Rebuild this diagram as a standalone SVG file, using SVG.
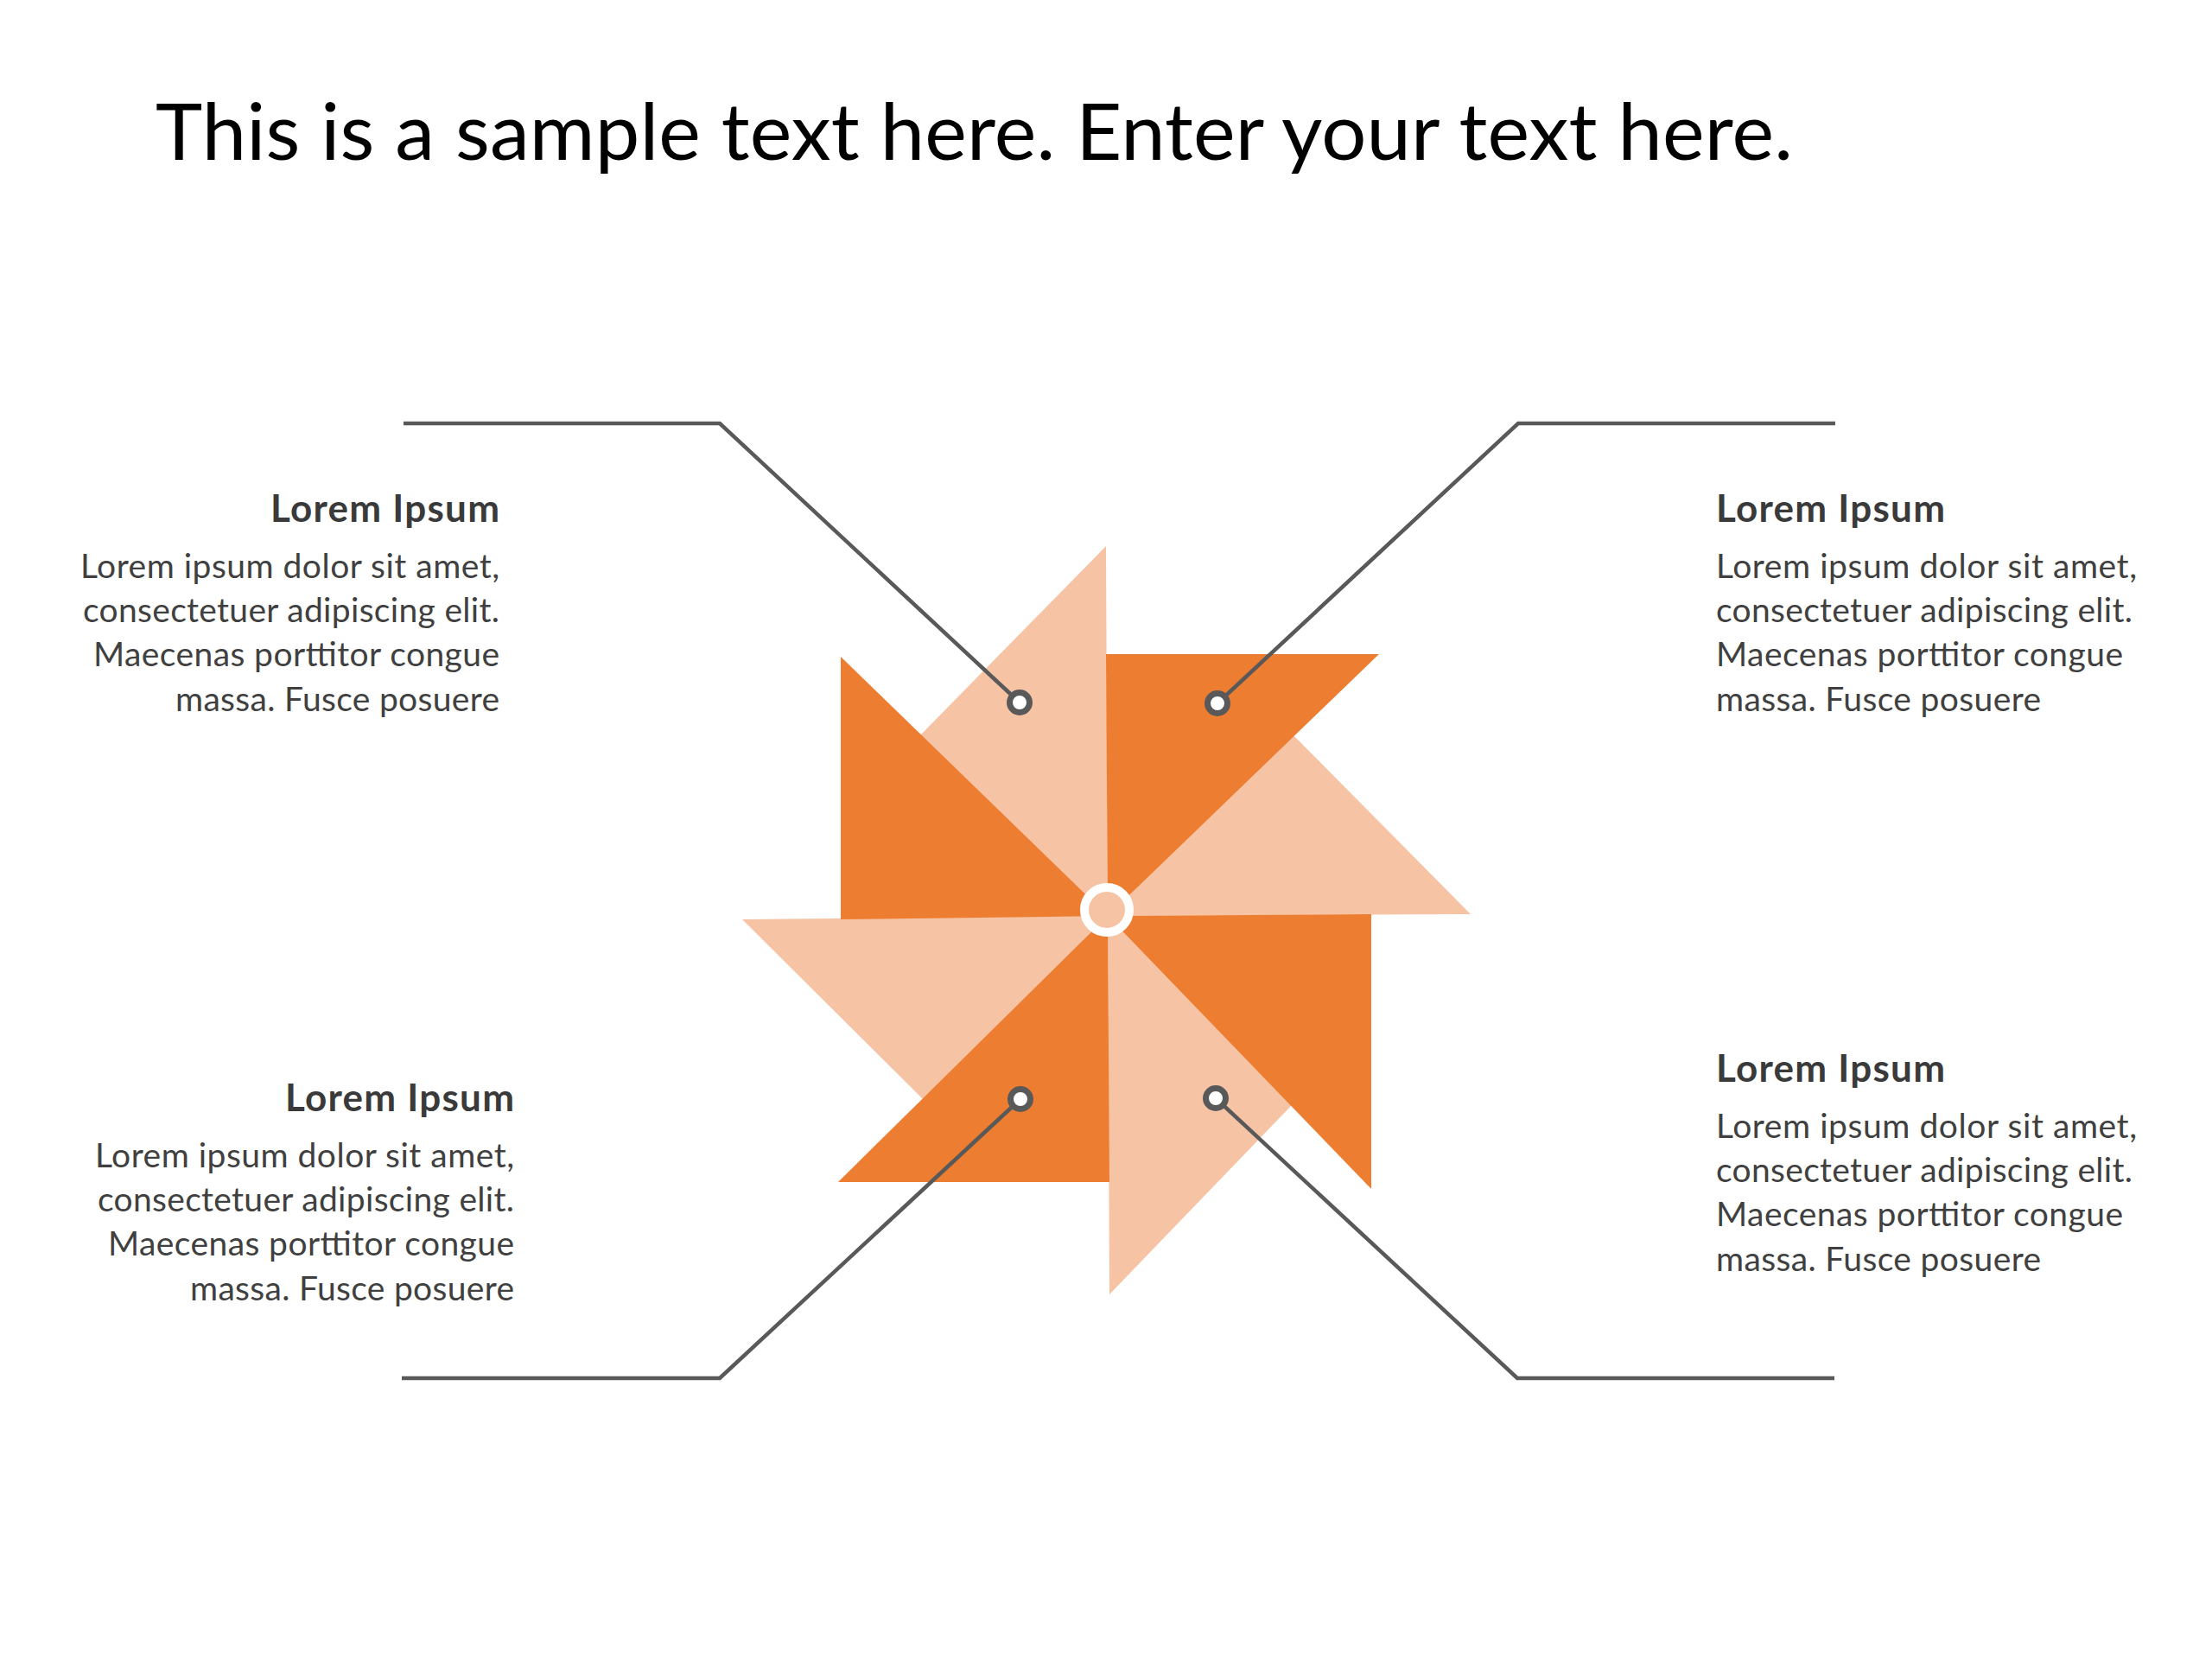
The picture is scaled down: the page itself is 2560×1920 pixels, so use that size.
<svg xmlns="http://www.w3.org/2000/svg" width="2560" height="1920" viewBox="0 0 2560 1920">
  <style>
    .title { font-family: Lato, "Open Sans", "Liberation Sans", sans-serif; font-size: 92px; fill: #000000; }
    .head { font-family: Lato, "Open Sans", "Liberation Sans", sans-serif; font-size: 44px; font-weight: bold; fill: #3A3A3A; }
    .body { font-family: Lato, "Open Sans", "Liberation Sans", sans-serif; font-size: 39px; fill: #404040; }
    .dark { fill: #ED7D31; }
    .light { fill: #F6C4A4; }
    .conn { fill: none; stroke: #595959; stroke-width: 4.5; stroke-linejoin: miter; }
    .dot { fill: #FFFFFF; stroke: #595959; stroke-width: 7; }
  </style>
  <rect width="2560" height="1920" fill="#FFFFFF"/>

  <text id="title" class="title" x="180" y="185" textLength="1895">This is a sample text here. Enter your text here.</text>

  <g id="pinwheel">
    <polygon class="light" points="1280,632 1064,852 1282,1060"/>
    <polygon class="light" points="1702,1058 1496,850 1282,1060"/>
    <polygon class="light" points="1284,1498 1496,1278 1282,1060"/>
    <polygon class="light" points="859,1064 1068,1272 1282,1060"/>
    <polygon class="dark" points="1280,757 1596,757 1282,1060"/>
    <polygon class="dark" points="1587,1058 1587,1376 1282,1060"/>
    <polygon class="dark" points="1284,1368 970,1368 1282,1060"/>
    <polygon class="dark" points="973,1064 973,760 1282,1060"/>
    <circle id="hub" cx="1281" cy="1053" r="26" fill="#F6C4A4" stroke="#FFFFFF" stroke-width="10"/>
  </g>

  <g id="connectors">
    <polyline class="conn" points="467,490 833,490 1180,813"/>
    <polyline class="conn" points="2124,490 1757,490 1409,814"/>
    <polyline class="conn" points="465,1595 833,1595 1181,1272"/>
    <polyline class="conn" points="2123,1595 1756,1595 1407,1271"/>
  </g>

  <g id="dots">
    <circle class="dot" cx="1180" cy="813" r="11.5"/>
    <circle class="dot" cx="1409" cy="814" r="11.5"/>
    <circle class="dot" cx="1181" cy="1272" r="11.5"/>
    <circle class="dot" cx="1407" cy="1271" r="11.5"/>
  </g>

  <g id="node-top-left" text-anchor="end">
    <text class="head" x="578" y="604" textLength="265">Lorem Ipsum</text>
    <text class="body" x="578" y="669" textLength="485">Lorem ipsum dolor sit amet,</text>
    <text class="body" x="578" y="720" textLength="482">consectetuer adipiscing elit.</text>
    <text class="body" x="578" y="771" textLength="470">Maecenas porttitor congue</text>
    <text class="body" x="578" y="823" textLength="375">massa. Fusce posuere</text>
  </g>

  <g id="node-top-right">
    <text class="head" x="1986" y="604" textLength="265">Lorem Ipsum</text>
    <text class="body" x="1986" y="669" textLength="487">Lorem ipsum dolor sit amet,</text>
    <text class="body" x="1986" y="720" textLength="482">consectetuer adipiscing elit.</text>
    <text class="body" x="1986" y="771" textLength="471">Maecenas porttitor congue</text>
    <text class="body" x="1986" y="823" textLength="376">massa. Fusce posuere</text>
  </g>

  <g id="node-bottom-left" text-anchor="end">
    <text class="head" x="595" y="1286" textLength="265">Lorem Ipsum</text>
    <text class="body" x="595" y="1351" textLength="485">Lorem ipsum dolor sit amet,</text>
    <text class="body" x="595" y="1402" textLength="482">consectetuer adipiscing elit.</text>
    <text class="body" x="595" y="1453" textLength="470">Maecenas porttitor congue</text>
    <text class="body" x="595" y="1505" textLength="375">massa. Fusce posuere</text>
  </g>

  <g id="node-bottom-right">
    <text class="head" x="1986" y="1252" textLength="265">Lorem Ipsum</text>
    <text class="body" x="1986" y="1317" textLength="487">Lorem ipsum dolor sit amet,</text>
    <text class="body" x="1986" y="1368" textLength="482">consectetuer adipiscing elit.</text>
    <text class="body" x="1986" y="1419" textLength="471">Maecenas porttitor congue</text>
    <text class="body" x="1986" y="1471" textLength="376">massa. Fusce posuere</text>
  </g>
</svg>
